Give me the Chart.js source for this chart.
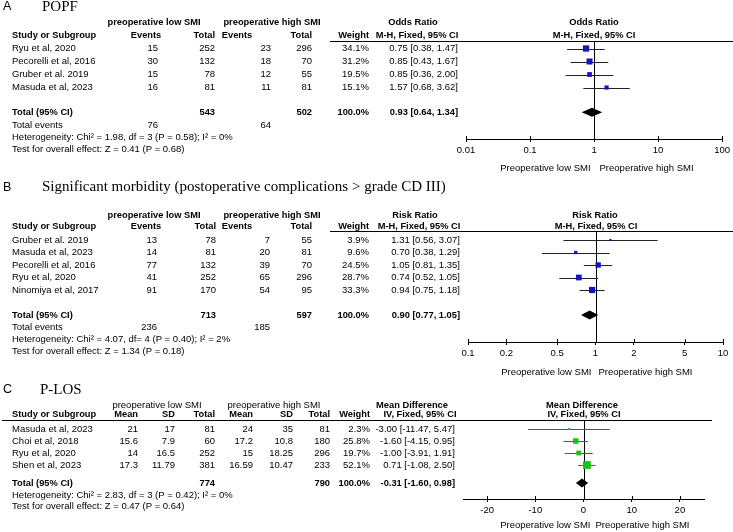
<!DOCTYPE html>
<html><head><meta charset="utf-8">
<script src="https://cdn.jsdelivr.net/npm/chart.js@4.4.1/dist/chart.umd.min.js"></script>
<style>
html,body{margin:0;padding:0;background:#fff;}
#wrap{position:relative;width:733px;height:532px;background:#fff;}
canvas{position:absolute;left:0;}
</style></head><body>
<div id="wrap">
<canvas id="cA" width="733" height="180" style="top:0px;width:733px;height:180px"></canvas>
<canvas id="cB" width="733" height="200" style="top:180px;width:733px;height:200px"></canvas>
<canvas id="cC" width="733" height="152" style="top:380px;width:733px;height:152px"></canvas>
</div>
<script>
// ---------- Panel A: POPF (Odds Ratio) ----------
const popfStudies    = ['Ryu et al, 2020','Pecorelli et al, 2016','Gruber et al. 2019','Masuda et al, 2023'];
const popfLowEvents  = [15,30,15,16];
const popfLowTotal   = [252,132,78,81];
const popfHighEvents = [23,18,12,11];
const popfHighTotal  = [296,70,55,81];
const popfWeight     = [34.1,31.2,19.5,15.1];
const popfEst        = [0.75,0.85,0.85,1.57];
const popfLo         = [0.38,0.43,0.36,0.68];
const popfHi         = [1.47,1.67,2.00,3.62];
const popfPooled     = [0.93,0.64,1.34];
const popfTotals     = [543,502];
const popfTotalEvents= [76,64];
const popfTicks      = [0.01,0.1,1,10,100];
const popfHet  = 'Heterogeneity: Chi\u00B2 = 1.98, df = 3 (P = 0.58); I\u00B2 = 0%';
const popfTest = 'Test for overall effect: Z = 0.41 (P = 0.68)';

// ---------- Panel B: Significant morbidity (Risk Ratio) ----------
const morbStudies    = ['Gruber et al. 2019','Masuda et al, 2023','Pecorelli et al, 2016','Ryu et al, 2020','Ninomiya et al, 2017'];
const morbLowEvents  = [13,14,77,41,91];
const morbLowTotal   = [78,81,132,252,170];
const morbHighEvents = [7,20,39,65,54];
const morbHighTotal  = [55,81,70,296,95];
const morbWeight     = [3.9,9.6,24.5,28.7,33.3];
const morbEst        = [1.31,0.70,1.05,0.74,0.94];
const morbLo         = [0.56,0.38,0.81,0.52,0.75];
const morbHi         = [3.07,1.29,1.35,1.05,1.18];
const morbPooled     = [0.90,0.77,1.05];
const morbTotals     = [713,597];
const morbTotalEvents= [236,185];
const morbTicks      = [0.1,0.2,0.5,1,2,5,10];
const morbHet  = 'Heterogeneity: Chi\u00B2 = 4.07, df= 4 (P = 0.40); I\u00B2 = 2%';
const morbTest = 'Test for overall effect: Z = 1.34 (P = 0.18)';

// ---------- Panel C: P-LOS (Mean Difference) ----------
const losStudies  = ['Masuda et al, 2023','Choi et al, 2018','Ryu et al, 2020','Shen et al, 2023'];
const losLowMean  = [21,15.6,14,17.3];
const losLowSD    = [17,7.9,16.5,11.79];
const losLowTotal = [81,60,252,381];
const losHighMean = [24,17.2,15,16.59];
const losHighSD   = [35,10.8,18.25,10.47];
const losHighTotal= [81,180,296,233];
const losWeight   = [2.3,25.8,19.7,52.1];
const losEst      = [-3.00,-1.60,-1.00,0.71];
const losLo       = [-11.47,-4.15,-3.91,-1.08];
const losHi       = [5.47,0.95,1.91,2.50];
const losPooled   = [-0.31,-1.60,0.98];
const losTotals   = [774,790];
const losTicks    = [-20,-10,0,10,20];
const losHet  = 'Heterogeneity: Chi\u00B2 = 2.83, df = 3 (P = 0.42); I\u00B2 = 0%';
const losTest = 'Test for overall effect: Z = 0.47 (P = 0.64)';

// ---------- helpers ----------
const SANS = '"Liberation Sans", Arial, sans-serif';
const SERIF = '"Liberation Serif", "Times New Roman", serif';
const FS = 9.5;      // normal table text
const FSB = 9.3;     // bold table text
const f2 = v => v.toFixed(2);
const ciText = (e,l,h) => f2(e) + ' [' + f2(l) + ', ' + f2(h) + ']';
const pct = w => w.toFixed(1) + '%';

function makeForest(canvasId, cfg) {
  const plugin = {
    id: 'forest',
    beforeDatasetsDraw(chart) {
      const {ctx, chartArea, scales} = chart;
      const x = scales.x, y = scales.y;
      ctx.save();
      ctx.strokeStyle = '#000'; ctx.lineWidth = 1;
      const ry = Math.round(chartArea.top) + 0.5;
      ctx.beginPath(); ctx.moveTo(cfg.ruleX0, ry); ctx.lineTo(cfg.ruleX1, ry); ctx.stroke();
      const rx = Math.round(x.getPixelForValue(cfg.ref)) + 0.5;
      ctx.beginPath(); ctx.moveTo(rx, chartArea.top); ctx.lineTo(rx, chartArea.bottom); ctx.stroke();
      x.ticks.forEach(t => {
        const px = Math.round(x.getPixelForValue(t.value)) + 0.5;
        ctx.beginPath(); ctx.moveTo(px, chartArea.bottom); ctx.lineTo(px, chartArea.bottom - 3); ctx.stroke();
      });
      ctx.strokeStyle = cfg.ciColor;
      cfg.lo.forEach((lo, i) => {
        const py = Math.round(y.getPixelForValue(i + 1)) + 0.5;
        ctx.beginPath();
        ctx.moveTo(x.getPixelForValue(lo), py);
        ctx.lineTo(x.getPixelForValue(cfg.hi[i]), py);
        ctx.stroke();
      });
      ctx.restore();
    },
    afterDatasetsDraw(chart) {
      const {ctx, scales} = chart;
      const x = scales.x, y = scales.y;
      const py = y.getPixelForValue(cfg.totalRow);
      const [e, l, h] = cfg.pooled;
      ctx.save();
      ctx.fillStyle = '#000';
      ctx.beginPath();
      ctx.moveTo(x.getPixelForValue(l), py);
      ctx.lineTo(x.getPixelForValue(e), py - 4.5);
      ctx.lineTo(x.getPixelForValue(h), py);
      ctx.lineTo(x.getPixelForValue(e), py + 4.5);
      ctx.closePath(); ctx.fill();
      ctx.restore();
    },
    afterDraw(chart) {
      const {ctx, scales} = chart;
      const x = scales.x, y = scales.y;
      ctx.save();
      ctx.fillStyle = '#000';
      ctx.textBaseline = 'middle';
      const ty = y.getPixelForValue(cfg.titleRow);
      ctx.font = '12.5px ' + SANS; ctx.textAlign = 'left';
      ctx.fillText(cfg.letter, 3, ty);
      ctx.font = '15px ' + SERIF;
      ctx.fillText(cfg.title, cfg.titleX, ty);
      const put = (txt, px, row, align, bold) => {
        ctx.font = bold ? ('bold ' + FSB + 'px ' + SANS) : (FS + 'px ' + SANS);
        ctx.textAlign = align;
        ctx.fillText(String(txt), px, y.getPixelForValue(row));
      };
      cfg.groupHeaders.forEach(g => put(g[0], g[1], -1, g[2], g[3]));
      cfg.colHeaders.forEach(g => put(g[0], g[1], cfg.colHeaderRow, g[2], true));
      cfg.columns.forEach(c => c.vals.forEach((v, i) => put(v, c.x, i + 1, c.align, false)));
      cfg.totalCells.forEach(c => put(c[0], c[1], cfg.totalRow, c[2], true));
      cfg.footer.forEach(c => put(c[0], c[1], c[2], c[3], false));
      const rx = x.getPixelForValue(cfg.ref);
      put('Preoperative low SMI', rx + cfg.preopLowDx, cfg.preopRow, 'right', false);
      put('Preoperative high SMI', rx + cfg.preopHighDx, cfg.preopRow, 'left', false);
      ctx.restore();
    }
  };

  return new Chart(document.getElementById(canvasId), {
    type: 'scatter',
    data: {
      datasets: [{
        data: cfg.est.map((v, i) => ({x: v, y: i + 1})),
        pointStyle: 'rect',
        pointRadius: cfg.weight.map(w => Math.max(1.4, Math.sqrt(w) * 0.76)),
        pointHoverRadius: cfg.weight.map(w => Math.max(1.4, Math.sqrt(w) * 0.76)),
        backgroundColor: cfg.squareColor,
        borderWidth: 0
      }]
    },
    options: {
      responsive: false,
      animation: false,
      devicePixelRatio: 1,
      layout: {padding: {left: cfg.padL, right: cfg.padR, top: cfg.padT, bottom: cfg.padB}},
      plugins: {legend: {display: false}, tooltip: {enabled: false}, title: {display: false}},
      scales: {
        x: {
          type: cfg.xType,
          min: cfg.xMin, max: cfg.xMax,
          afterBuildTicks: s => { s.ticks = cfg.ticks.map(v => ({value: v})); },
          afterFit: s => { s.height = 20; },
          border: {display: true, color: '#000', width: 1},
          grid: {display: true, drawOnChartArea: false, drawTicks: true, tickLength: 3, color: '#000'},
          ticks: {
            autoSkip: false, maxRotation: 0, padding: 3, color: '#000',
            font: {family: 'Liberation Sans', size: FS},
            callback: v => String(v)
          }
        },
        y: {type: 'linear', display: false, reverse: true, min: cfg.yMin, max: cfg.yMax}
      }
    },
    plugins: [plugin]
  });
}

// ---------- Panel A ----------
makeForest('cA', {
  letter: 'A', title: 'POPF', titleX: 42, titleRow: -2.2,
  padL: 466, padR: 10, padT: 41, padB: 21, yMin: 0.423, yMax: 7.96,
  xType: 'logarithmic', xMin: 0.01, xMax: 100, ticks: popfTicks, ref: 1,
  ruleX0: 330, ruleX1: 733, ciColor: '#222', squareColor: '#1414c4',
  est: popfEst, lo: popfLo, hi: popfHi, weight: popfWeight, pooled: popfPooled,
  colHeaderRow: 0, totalRow: 5.9,
  groupHeaders: [['preoperative low SMI',154,'center',true],['preoperative high SMI',272,'center',true],
                 ['Odds Ratio',413,'center',true],['Odds Ratio',594,'center',true]],
  colHeaders: [['Study or Subgroup',12,'left'],['Events',146,'center'],['Total',215,'right'],
               ['Events',237,'center'],['Total',312,'right'],['Weight',369,'right'],
               ['M-H, Fixed, 95% CI',417,'center'],['M-H, Fixed, 95% CI',594,'center']],
  columns: [
    {x: 12, align: 'left', vals: popfStudies},
    {x: 158, align: 'right', vals: popfLowEvents},
    {x: 215, align: 'right', vals: popfLowTotal},
    {x: 271, align: 'right', vals: popfHighEvents},
    {x: 312, align: 'right', vals: popfHighTotal},
    {x: 369, align: 'right', vals: popfWeight.map(pct)},
    {x: 458, align: 'right', vals: popfEst.map((e, i) => ciText(e, popfLo[i], popfHi[i]))}
  ],
  totalCells: [['Total (95% CI)',12,'left'],[popfTotals[0],215,'right'],[popfTotals[1],312,'right'],
               ['100.0%',369,'right'],[ciText(...popfPooled),458,'right']],
  footer: [['Total events',12,6.95,'left'],[popfTotalEvents[0],158,6.95,'right'],[popfTotalEvents[1],271,6.95,'right'],
           [popfHet,12,7.85,'left'],[popfTest,12,8.75,'left']],
  preopRow: 10.2, preopLowDx: -3.5, preopHighDx: 5.5
});

// ---------- Panel B ----------
makeForest('cB', {
  letter: 'B', title: 'Significant morbidity (postoperative complications > grade CD III)', titleX: 42, titleRow: -3.2,
  padL: 468, padR: 10, padT: 51, padB: 18, yMin: 0.28, yMax: 9.16,
  xType: 'logarithmic', xMin: 0.1, xMax: 10, ticks: morbTicks, ref: 1,
  ruleX0: 330, ruleX1: 733, ciColor: '#222', squareColor: '#1414c4',
  est: morbEst, lo: morbLo, hi: morbHi, weight: morbWeight, pooled: morbPooled,
  colHeaderRow: -0.1, totalRow: 7,
  groupHeaders: [['preoperative low SMI',154,'center',true],['preoperative high SMI',272,'center',true],
                 ['Risk Ratio',415,'center',true],['Risk Ratio',595,'center',true]],
  colHeaders: [['Study or Subgroup',12,'left'],['Events',146,'center'],['Total',216,'right'],
               ['Events',237,'center'],['Total',312,'right'],['Weight',369,'right'],
               ['M-H, Fixed, 95% CI',419,'center'],['M-H, Fixed, 95% CI',596,'center']],
  columns: [
    {x: 12, align: 'left', vals: morbStudies},
    {x: 157, align: 'right', vals: morbLowEvents},
    {x: 216, align: 'right', vals: morbLowTotal},
    {x: 270, align: 'right', vals: morbHighEvents},
    {x: 312, align: 'right', vals: morbHighTotal},
    {x: 369, align: 'right', vals: morbWeight.map(pct)},
    {x: 460, align: 'right', vals: morbEst.map((e, i) => ciText(e, morbLo[i], morbHi[i]))}
  ],
  totalCells: [['Total (95% CI)',12,'left'],[morbTotals[0],216,'right'],[morbTotals[1],312,'right'],
               ['100.0%',369,'right'],[ciText(...morbPooled),460,'right']],
  footer: [['Total events',12,8,'left'],[morbTotalEvents[0],157,8,'right'],[morbTotalEvents[1],270,8,'right'],
           [morbHet,12,8.95,'left'],[morbTest,12,9.9,'left']],
  preopRow: 11.56, preopLowDx: -4, preopHighDx: 3
});

// ---------- Panel C ----------
makeForest('cC', {
  letter: 'C', title: 'P-LOS', titleX: 40, titleRow: -2.25,
  padL: 463, padR: 29, padT: 40, padB: 13, yMin: 0.25, yMax: 6.83,
  xType: 'linear', xMin: -25, xMax: 25, ticks: losTicks, ref: 0,
  ruleX0: 2, ruleX1: 712, ciColor: '#555', squareColor: '#14c414',
  est: losEst, lo: losLo, hi: losHi, weight: losWeight, pooled: losPooled,
  colHeaderRow: -0.25, totalRow: 5.5,
  groupHeaders: [['preoperative low SMI',157,'center',false],['preoperative high SMI',274,'center',false],
                 ['Mean Difference',412,'center',true],['Mean Difference',582,'center',true]],
  colHeaders: [['Study or Subgroup',12,'left'],['Mean',138,'right'],['SD',175,'right'],['Total',215,'right'],
               ['Mean',253,'right'],['SD',293,'right'],['Total',330,'right'],['Weight',370,'right'],
               ['IV, Fixed, 95% CI',420,'center'],['IV, Fixed, 95% CI',584,'center']],
  columns: [
    {x: 12, align: 'left', vals: losStudies},
    {x: 138, align: 'right', vals: losLowMean},
    {x: 175, align: 'right', vals: losLowSD},
    {x: 215, align: 'right', vals: losLowTotal},
    {x: 253, align: 'right', vals: losHighMean},
    {x: 293, align: 'right', vals: losHighSD},
    {x: 330, align: 'right', vals: losHighTotal},
    {x: 370, align: 'right', vals: losWeight.map(pct)},
    {x: 455, align: 'right', vals: losEst.map((e, i) => ciText(e, losLo[i], losHi[i]))}
  ],
  totalCells: [['Total (95% CI)',12,'left'],[losTotals[0],215,'right'],[losTotals[1],330,'right'],
               ['100.0%',370,'right'],[ciText(...losPooled),455,'right']],
  footer: [[losHet,12,6.5,'left'],[losTest,12,7.45,'left']],
  preopRow: 9.0, preopLowDx: 7, preopHighDx: 12
});
</script>
</body></html>
